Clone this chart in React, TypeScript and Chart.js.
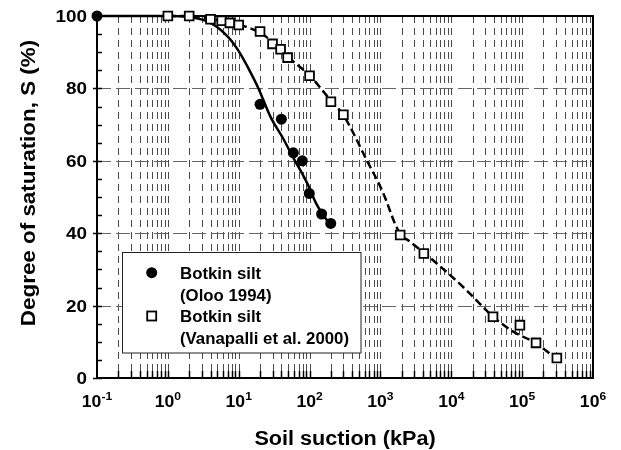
import React, { useEffect, useRef } from 'react';
import { Chart, registerables } from 'chart.js';

Chart.register(...registerables);

const FONT = "'Liberation Sans', Arial, Helvetica, sans-serif";

// Botkin silt (Oloo 1994) – measured points
const OLOO_SUCTION = [0.1, 20, 40, 59, 79, 99, 148, 199];
const OLOO_SATURATION = [100, 75.6, 71.5, 62.2, 60.0, 51.0, 45.3, 42.7];
// Oloo fitted curve
const OLOO_FIT_SUCTION = [0.1, 1, 2, 4, 7, 10, 14, 19, 28, 42, 58, 92, 127, 200];
const OLOO_FIT_SATURATION = [100, 100, 99.7, 98.1, 94.3, 90.3, 85.2, 80.0, 72.2, 66.3, 61.1, 53.9, 47.8, 42.0];

// Botkin silt (Vanapalli et al. 2000) – measured points
const VAN_SUCTION = [1, 2, 4, 5.75, 7.5, 10, 20, 30, 39, 49, 100, 200, 300, 1900, 4100, 38800, 93000, 157000, 309000];
const VAN_SATURATION = [100, 100, 99.1, 98.7, 98.1, 97.5, 95.7, 92.3, 90.8, 88.5, 83.5, 76.3, 72.7, 39.5, 34.4, 16.9, 14.6, 9.7, 5.5];
// Vanapalli fitted curve
const VAN_FIT_SUCTION = [1, 2, 4, 10, 20, 30, 50, 100, 200, 300, 640, 1100, 1600, 1900, 2600, 4100, 6900, 16500, 31600, 40000, 75000, 144000, 300000];
const VAN_FIT_SATURATION = [100, 100, 99.2, 97.6, 95.4, 92.8, 88.6, 83.6, 76.6, 72.6, 60.2, 51, 42.7, 39.8, 37.7, 34.6, 30.9, 24.2, 18.6, 16.7, 12.8, 10.0, 5.5];

const X_MIN = 0.1;
const X_MAX = 1e6;
const Y_MIN = 0;
const Y_MAX = 100;
const X_TICK_EXPONENTS = [-1, 0, 1, 2, 3, 4, 5, 6];
const Y_TICKS = [0, 20, 40, 60, 80, 100];
const Y_GRID = [20, 40, 60, 80];
const Y_MINOR_STEP = 5;
const X_TITLE = 'Soil suction (kPa)';
const Y_TITLE = 'Degree of saturation, S (%)';
const LEGEND_1 = ['Botkin silt', '(Oloo 1994)'];
const LEGEND_2 = ['Botkin silt', '(Vanapalli et al. 2000)'];

const pts = (xs: number[], ys: number[]) => xs.map((x, i) => ({ x, y: ys[i] }));

function scaledText(ctx: CanvasRenderingContext2D, text: string, x: number, y: number, sx: number, align: CanvasTextAlign) {
  ctx.save();
  ctx.translate(x, y);
  ctx.scale(sx, 1);
  ctx.textAlign = align;
  ctx.textBaseline = 'alphabetic';
  ctx.fillText(text, 0, 0);
  ctx.restore();
}

function seg(ctx: CanvasRenderingContext2D, x1: number, y1: number, x2: number, y2: number) {
  ctx.beginPath();
  ctx.moveTo(x1, y1);
  ctx.lineTo(x2, y2);
  ctx.stroke();
}

const framePlugin = {
  id: 'frame',
  beforeDatasetsDraw(chart: any) {
    const { ctx, chartArea: a, scales } = chart;
    const xs = scales.x;
    const ys = scales.y;
    ctx.save();
    // grid lines
    ctx.lineWidth = 1;
    ctx.strokeStyle = '#4a4a4a';
    ctx.setLineDash([7, 5]);
    for (let e = -1; e < 6; e++) {
      for (let m = 2; m <= 10; m++) {
        const px = Math.round(xs.getPixelForValue(m * Math.pow(10, e))) + 0.5;
        if (px > a.right - 2) continue;
        seg(ctx, px, a.top, px, a.bottom);
      }
    }
    ctx.strokeStyle = '#666';
    ctx.setLineDash([14, 5]);
    for (const v of Y_GRID) {
      const py = Math.round(ys.getPixelForValue(v)) + 0.5;
      seg(ctx, a.left, py, a.right, py);
    }
    ctx.setLineDash([]);
    // tick marks
    ctx.strokeStyle = '#000';
    ctx.lineWidth = 1.5;
    for (let e = -1; e < 6; e++) {
      for (let m = 2; m <= 10; m++) {
        const px = Math.round(xs.getPixelForValue(m * Math.pow(10, e))) + 0.5;
        if (px > a.right - 2) continue;
        seg(ctx, px, a.bottom, px, a.bottom - 7);
      }
    }
    for (let v = Y_MIN; v <= Y_MAX; v += Y_MINOR_STEP) {
      const py = Math.round(ys.getPixelForValue(v)) + 0.5;
      seg(ctx, a.left, py, a.left + 5, py);
    }
    for (const v of Y_TICKS) {
      const py = Math.round(ys.getPixelForValue(v)) + 0.5;
      seg(ctx, a.left - 4, py, a.left, py);
    }
    // frame
    ctx.lineWidth = 2;
    ctx.strokeRect(a.left, a.top, a.right - a.left, a.bottom - a.top);

    // tick labels
    ctx.fillStyle = '#000';
    ctx.font = `bold 16px ${FONT}`;
    for (const v of Y_TICKS) {
      const py = ys.getPixelForValue(v);
      scaledText(ctx, String(v), a.left - 10, py + 6, 1.18, 'right');
    }
    const sx = 1.1;
    for (const e of X_TICK_EXPONENTS) {
      const px = xs.getPixelForValue(Math.pow(10, e));
      ctx.font = `bold 16px ${FONT}`;
      const w1 = ctx.measureText('10').width * sx;
      ctx.font = `bold 11px ${FONT}`;
      const exp = String(e);
      const w2 = ctx.measureText(exp).width * sx;
      const start = px - (w1 + w2) / 2;
      ctx.font = `bold 16px ${FONT}`;
      scaledText(ctx, '10', start, a.bottom + 28.5, sx, 'left');
      ctx.font = `bold 11px ${FONT}`;
      scaledText(ctx, exp, start + w1, a.bottom + 21.5, sx, 'left');
    }

    // axis titles
    ctx.font = `bold 20px ${FONT}`;
    scaledText(ctx, X_TITLE, (a.left + a.right) / 2, 445, 1.08, 'center');
    ctx.save();
    ctx.translate(35, 183);
    ctx.rotate(-Math.PI / 2);
    scaledText(ctx, Y_TITLE, 0, 0, 1.12, 'center');
    ctx.restore();
    ctx.restore();
  },
  afterDraw(chart: any) {
    const { ctx } = chart;
    ctx.save();
    // legend box
    ctx.fillStyle = '#fff';
    ctx.fillRect(122.5, 252.5, 238.5, 100.5);
    ctx.strokeStyle = '#222';
    ctx.lineWidth = 1;
    ctx.strokeRect(122.5, 252.5, 238.5, 100.5);
    // symbols
    ctx.fillStyle = '#000';
    ctx.beginPath();
    ctx.arc(151.7, 272.7, 5.5, 0, Math.PI * 2);
    ctx.fill();
    ctx.fillStyle = '#fff';
    ctx.fillRect(147.2, 311.5, 9, 9);
    ctx.strokeStyle = '#000';
    ctx.lineWidth = 1.8;
    ctx.strokeRect(147.2, 311.5, 9, 9);
    // text
    ctx.fillStyle = '#000';
    ctx.font = `bold 16px ${FONT}`;
    const lines = [...LEGEND_1, ...LEGEND_2];
    const baselines = [279, 300.7, 322.3, 344];
    lines.forEach((t, i) => scaledText(ctx, t, 180, baselines[i], 1.05, 'left'));
    ctx.restore();
  },
};

export default function App() {
  const ref = useRef<HTMLCanvasElement>(null);
  useEffect(() => {
    document.body.style.margin = '0';
    const canvas = ref.current;
    if (!canvas) return;
    const chart = new Chart(canvas, {
      type: 'scatter',
      data: {
        datasets: [
          {
            label: 'Botkin silt (Oloo 1994)',
            data: pts(OLOO_SUCTION, OLOO_SATURATION),
            showLine: false,
            pointStyle: 'circle',
            pointRadius: 5.5,
            pointBackgroundColor: '#000',
            pointBorderColor: '#000',
            pointBorderWidth: 0,
            clip: false,
          },
          {
            label: 'Botkin silt (Vanapalli et al. 2000)',
            data: pts(VAN_SUCTION, VAN_SATURATION),
            showLine: false,
            pointStyle: 'rect',
            pointRadius: 6.2,
            pointBackgroundColor: '#fff',
            pointBorderColor: '#000',
            pointBorderWidth: 1.8,
            clip: false,
          },
          {
            label: 'Oloo fit',
            data: pts(OLOO_FIT_SUCTION, OLOO_FIT_SATURATION),
            showLine: true,
            borderColor: '#000',
            borderWidth: 2.5,
            pointRadius: 0,
            cubicInterpolationMode: 'monotone',
            clip: false,
          },
          {
            label: 'Vanapalli fit',
            data: pts(VAN_FIT_SUCTION, VAN_FIT_SATURATION),
            showLine: true,
            borderColor: '#000',
            borderWidth: 2.5,
            borderDash: [8, 4],
            pointRadius: 0,
            cubicInterpolationMode: 'monotone',
            clip: false,
          },
        ],
      },
      options: {
        animation: false,
        responsive: false,
        devicePixelRatio: 1,
        layout: { padding: { left: 97, top: 16, right: 28, bottom: 72 } },
        plugins: { legend: { display: false }, tooltip: { enabled: false } },
        scales: {
          x: { type: 'logarithmic', min: X_MIN, max: X_MAX, display: false },
          y: { type: 'linear', min: Y_MIN, max: Y_MAX, display: false },
        },
      },
      plugins: [framePlugin],
    } as any);
    return () => chart.destroy();
  }, []);
  return <canvas ref={ref} width={621} height={450} style={{ display: 'block' }} />;
}
